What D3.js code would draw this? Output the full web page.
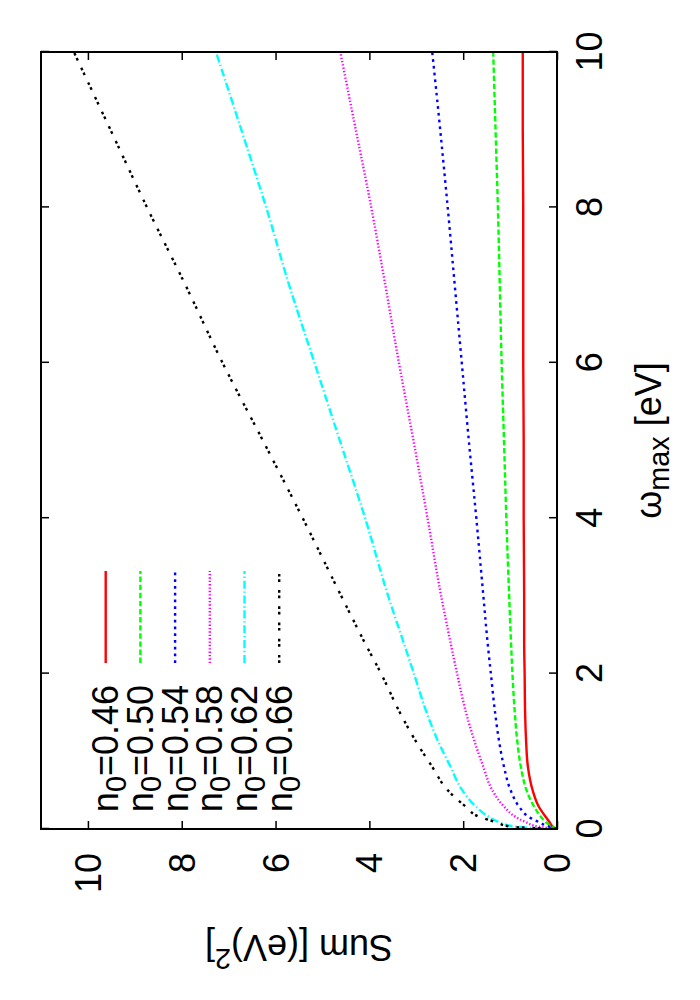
<!DOCTYPE html>
<html>
<head>
<meta charset="utf-8">
<script src="https://cdn.jsdelivr.net/npm/d3@7"></script>
<style>
  body { margin: 0; background: #fff; }
  svg text { font-family: "Liberation Sans", Arial, Helvetica, sans-serif; }
</style>
</head>
<body>
<div id="chart"></div>
<script>
// omega_max grid [eV] and sum values [(eV)^2]
const omega = [0, 0.03, 0.09, 0.155, 0.29, 0.5, 0.8, 1.15, 1.5, 2, 2.4, 3, 4, 5, 6, 7, 8, 9, 10];
const sum046 = [0, 0.09, 0.16, 0.24, 0.39, 0.52, 0.62, 0.66, 0.68, 0.69, 0.70, 0.70, 0.71, 0.71, 0.72, 0.72, 0.72, 0.73, 0.73];
const sum050 = [0, 0.10, 0.24, 0.34, 0.49, 0.65, 0.77, 0.85, 0.90, 0.95, 0.98, 1.02, 1.08, 1.13, 1.18, 1.22, 1.26, 1.31, 1.36];
const sum054 = [0, 0.17, 0.39, 0.60, 0.81, 0.99, 1.13, 1.24, 1.32, 1.41, 1.48, 1.57, 1.72, 1.88, 2.03, 2.18, 2.33, 2.49, 2.66];
const sum058 = [0, 0.39, 0.67, 0.88, 1.13, 1.38, 1.57, 1.77, 1.94, 2.13, 2.27, 2.47, 2.76, 3.06, 3.37, 3.66, 3.96, 4.29, 4.62];
const sum062 = [0, 0.88, 1.24, 1.45, 1.73, 2.02, 2.27, 2.55, 2.78, 3.05, 3.27, 3.60, 4.09, 4.63, 5.17, 5.71, 6.20, 6.73, 7.27];
const sum066 = [0, 0.99, 1.31, 1.65, 1.95, 2.33, 2.66, 3.03, 3.35, 3.75, 4.10, 4.60, 5.42, 6.27, 7.13, 7.92, 8.74, 9.52, 10.30];

const labels = ["0.46", "0.50", "0.54", "0.58", "0.62", "0.66"];
const colors = ["#ff0000", "#00ff00", "#0000ff", "#ff00ff", "#00ffff", "#000000"];
const xTicks = [0, 2, 4, 6, 8, 10];
const yTicks = [0, 2, 4, 6, 8, 10];

const dl = 1.35;
const dashes = [null, [4, 2], [2, 3], [1, 1.5], [6, 2, 1, 2], [2, 2, 2, 6]]
  .map(p => p ? p.map(v => v * dl).join(",") : null);

const series = [sum046, sum050, sum054, sum058, sum062, sum066].map((vals, i) => ({
  label: labels[i],
  color: colors[i],
  dash: dashes[i],
  points: omega.map((w, j) => ({ w: w, s: vals[j] }))
}));

// the plot is drawn in its own frame and turned by -90 degrees
const W = 777, H = 516;
const svg = d3.select("#chart").append("svg")
  .attr("width", 700)
  .attr("height", 1000);

const g = svg.append("g")
  .attr("transform", "translate(41,829) rotate(-90)");

const x = d3.scaleLinear().domain([0, 10]).range([0, W]);
const y = d3.scaleLinear().domain([0, 11]).range([H, 0]);

g.append("clipPath").attr("id", "clip")
  .append("rect").attr("width", W).attr("height", H);

const line = d3.line()
  .x(d => x(d.w))
  .y(d => y(d.s))
  .curve(d3.curveMonotoneX);

g.append("g").attr("clip-path", "url(#clip)")
  .selectAll("path")
  .data(series)
  .enter()
  .append("path")
  .attr("fill", "none")
  .attr("stroke", d => d.color)
  .attr("stroke-width", 2.4)
  .attr("stroke-dasharray", d => d.dash)
  .attr("d", d => line(d.points));

// axes, ticks pointing inward on all four sides
const bottom = g.append("g")
  .attr("transform", `translate(0,${H})`)
  .call(d3.axisBottom(x).tickValues(xTicks).tickSize(-8));
bottom.selectAll("text").attr("y", 45).attr("dy", null);

g.append("g")
  .call(d3.axisTop(x).tickValues(xTicks).tickSize(-8).tickFormat(""));

const left = g.append("g")
  .call(d3.axisLeft(y).tickValues(yTicks).tickSize(-8));
left.selectAll("text").attr("x", -24).attr("dy", "0.35em");

g.append("g")
  .attr("transform", `translate(${W},0)`)
  .call(d3.axisRight(y).tickValues(yTicks).tickSize(-8).tickFormat(""));

g.selectAll(".domain").remove();
g.selectAll(".tick line").attr("stroke", "#000").attr("stroke-width", 1.5);
g.selectAll(".tick text").attr("font-size", 36).attr("fill", "#000")
  .style("font-family", "'Liberation Sans', Arial, Helvetica, sans-serif");

g.append("rect")
  .attr("width", W)
  .attr("height", H)
  .attr("fill", "none")
  .attr("stroke", "#000")
  .attr("stroke-width", 2);

// axis titles
const xt = g.append("text")
  .attr("x", W / 2)
  .attr("y", H + 104)
  .attr("text-anchor", "middle")
  .attr("font-size", 36);
xt.append("tspan").text("ω");
xt.append("tspan").attr("font-size", 28.8).attr("dy", 8).text("max");
xt.append("tspan").attr("dy", -8).text(" [eV]");

const yt = g.append("text")
  .attr("transform", `translate(-106,${H / 2}) rotate(-90)`)
  .attr("text-anchor", "middle")
  .attr("font-size", 36);
yt.append("tspan").text("Sum [(eV)");
yt.append("tspan").attr("font-size", 28.8).attr("dy", -14).text("2");
yt.append("tspan").attr("dy", 14).text("]");

// key, top left of the plot
const key = g.append("g")
  .selectAll("g")
  .data(series)
  .enter()
  .append("g")
  .attr("transform", (d, i) => `translate(0,${64.7 + i * 34.7})`);

key.append("line")
  .attr("x1", 166)
  .attr("x2", 258)
  .attr("stroke", d => d.color)
  .attr("stroke-width", 2.4)
  .attr("stroke-dasharray", d => d.dash);

const kt = key.append("text")
  .attr("x", 144)
  .attr("y", 12.6)
  .attr("text-anchor", "end")
  .attr("font-size", 36);
kt.append("tspan").text("n");
kt.append("tspan").attr("font-size", 28.8).attr("dy", 8).text("0");
kt.append("tspan").attr("dy", -8).text(d => "=" + d.label);
</script>
</body>
</html>
